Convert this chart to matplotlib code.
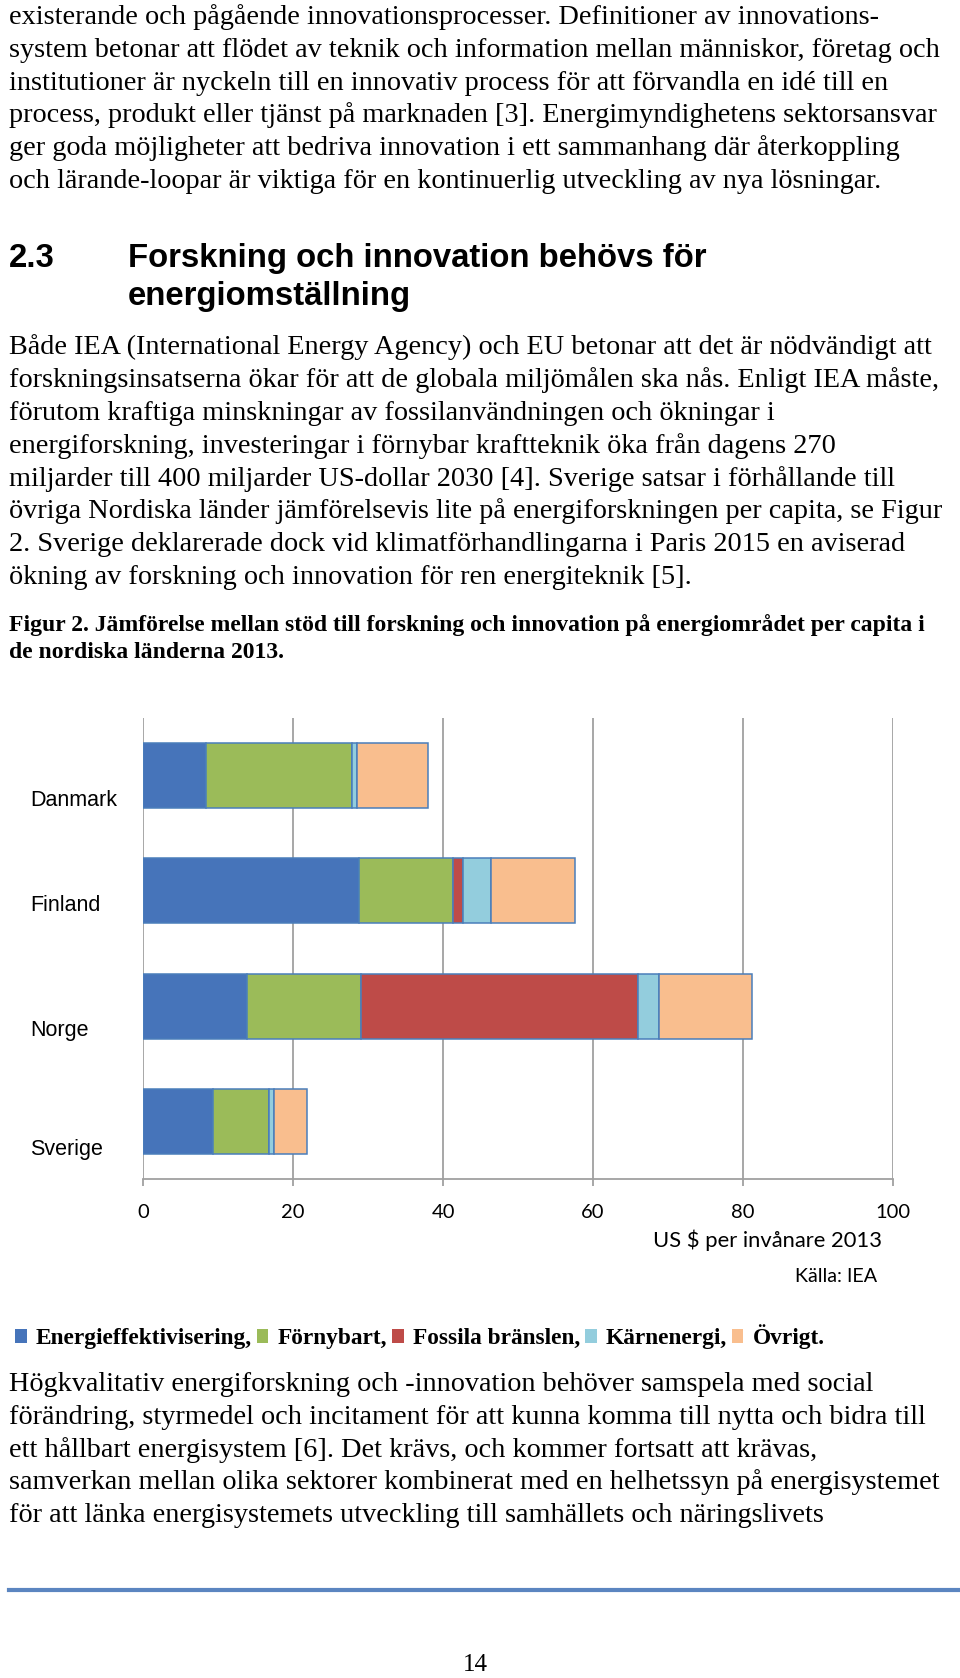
from matplotlib import pyplot
from matplotlib.lines import Line2D
from matplotlib.patches import Patch
import matplotlib.transforms as mtransforms
import numpy as np

W, H = 960, 1678

# chart data (US $ per invanare 2013)
countries = ['Danmark', 'Finland', 'Norge', 'Sverige']
series = ['Energieffektivisering', 'Förnybart', 'Fossila bränslen', 'Kärnenergi', 'Övrigt']
energieff = [8.3, 28.8, 13.8, 9.3]
fornybart = [19.5, 12.5, 15.2, 7.5]
fossila = [0.0, 1.3, 37.0, 0.0]
karnenergi = [0.7, 3.8, 2.8, 0.6]
ovrigt = [9.5, 11.2, 12.4, 4.4]
colors = ['#4674ba', '#9bbb59', '#be4b48', '#93cddd', '#f9be8e']
xticks = [0, 20, 40, 60, 80, 100]

para1 = [
	'existerande och pågående innovationsprocesser. Definitioner av innovations-',
	'system betonar att flödet av teknik och information mellan människor, företag och',
	'institutioner är nyckeln till en innovativ process för att förvandla en idé till en',
	'process, produkt eller tjänst på marknaden [3]. Energimyndighetens sektorsansvar',
	'ger goda möjligheter att bedriva innovation i ett sammanhang där återkoppling',
	'och lärande-loopar är viktiga för en kontinuerlig utveckling av nya lösningar.',
]
para2 = [
	'Både IEA (International Energy Agency) och EU betonar att det är nödvändigt att',
	'forskningsinsatserna ökar för att de globala miljömålen ska nås. Enligt IEA måste,',
	'förutom kraftiga minskningar av fossilanvändningen och ökningar i',
	'energiforskning, investeringar i förnybar kraftteknik öka från dagens 270',
	'miljarder till 400 miljarder US-dollar 2030 [4]. Sverige satsar i förhållande till',
	'övriga Nordiska länder jämförelsevis lite på energiforskningen per capita, se Figur',
	'2. Sverige deklarerade dock vid klimatförhandlingarna i Paris 2015 en aviserad',
	'ökning av forskning och innovation för ren energiteknik [5].',
]
caption = [
	'Figur 2. Jämförelse mellan stöd till forskning och innovation på energiområdet per capita i',
	'de nordiska länderna 2013.',
]
para3 = [
	'Högkvalitativ energiforskning och -innovation behöver samspela med social',
	'förändring, styrmedel och incitament för att kunna komma till nytta och bidra till',
	'ett hållbart energisystem [6]. Det krävs, och kommer fortsatt att krävas,',
	'samverkan mellan olika sektorer kombinerat med en helhetssyn på energisystemet',
	'för att länka energisystemets utveckling till samhällets och näringslivets',
]


def fy(ypx):
	return 1 - ypx / H


def body(fig, lines, y0, step, size=20.3, weight='normal'):
	for i, line in enumerate(lines):
		fig.text(9 / W, fy(y0 + i * step), line, family='Liberation Serif',
				fontsize=size, weight=weight, va='baseline', ha='left')


fig = pyplot.figure(figsize=(W / 100, H / 100), dpi=100)

body(fig, para1, 24, 32.8)
fig.text(9 / W, fy(267), '2.3', family='Liberation Sans', weight='bold', fontsize=23.7, va='baseline')
fig.text(128 / W, fy(267), 'Forskning och innovation behövs för', family='Liberation Sans',
		weight='bold', fontsize=23.7, va='baseline')
fig.text(128 / W, fy(305), 'energiomställning', family='Liberation Sans',
		weight='bold', fontsize=23.7, va='baseline')
body(fig, para2, 354, 32.9)
body(fig, caption, 631, 27, size=17, weight='bold')
body(fig, para3, 1391, 32.8)

# chart
ax = fig.add_axes([143.4 / W, fy(1179), 749.2 / W, 461 / H])
data = [energieff, fornybart, fossila, karnenergi, ovrigt]
y = np.arange(len(countries))
left = np.zeros(len(countries))
handles = []
for name, vals, col in zip(series, data, colors):
	vals = np.array(vals)
	ax.barh(y, vals, left=left, height=0.565, color=col, edgecolor='#4a7ebb', linewidth=1.1, zorder=3)
	left += vals
	handles.append(Patch(facecolor=col, edgecolor='none'))

ax.set_xlim(0, 100)
ax.set_ylim(3.5, -0.5)
ax.set_xticks(xticks)
ax.set_xticklabels([str(t) for t in xticks], family='Lato', fontsize=14.5)
ax.set_yticks([])
ax.grid(axis='x', color='#a0a0a0', linewidth=1.3, zorder=0)
for s in ['top', 'right', 'left']:
	ax.spines[s].set_visible(False)
ax.spines['bottom'].set_color('#a0a0a0')
ax.spines['bottom'].set_linewidth(1.3)
ax.tick_params(axis='x', length=5, width=1.3, color='#a0a0a0', pad=13)

trans = mtransforms.blended_transform_factory(fig.transFigure, ax.transData)
label_shift = [0.22, 0.13, 0.21, 0.24]
for i, c in enumerate(countries):
	ax.text(30 / W, i + label_shift[i], c, transform=trans, family='Liberation Sans', fontsize=15.5,
			va='center', ha='left')

fig.text(882 / W, fy(1240), 'US $ per invånare 2013', family='Lato', fontsize=15.8, ha='right', va='center')
fig.text(877 / W, fy(1276), 'Källa: IEA', family='Lato', fontsize=14.2, ha='right', va='center')

labels = ['Energieffektivisering,', 'Förnybart,', 'Fossila bränslen,', 'Kärnenergi,', 'Övrigt.']
fig.legend(handles, labels, ncol=5, loc='center left', bbox_to_anchor=(15 / W, fy(1337)),
		frameon=False, prop={'family': 'Liberation Serif', 'weight': 'bold', 'size': 16.8},
		handlelength=0.5, handleheight=0.5, handletextpad=0.4, columnspacing=0.2,
		borderpad=0, borderaxespad=0)

fig.add_artist(Line2D([9 / W, 958 / W], [fy(1590), fy(1590)], color='#5b85c0', linewidth=3))
fig.text(475 / W, fy(1665), '14', family='Liberation Serif', fontsize=18, ha='center', va='center')

pyplot.savefig('out.png', dpi=100)
pyplot.close()
